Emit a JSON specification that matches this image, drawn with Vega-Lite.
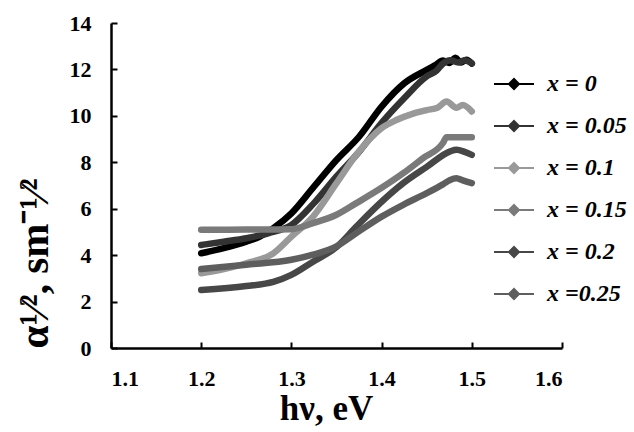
{
  "$schema": "https://vega.github.io/schema/vega-lite/v6.json",
  "width": 451,
  "height": 325,
  "autosize": {"type": "none"},
  "padding": {"left": 111, "top": 23, "right": 72, "bottom": 84},
  "background": "white",
  "config": {"view": {"stroke": null}},
  "data": {"values": [
    {"s": "x = 0", "e": 1.2, "a": 4.08}, {"s": "x = 0", "e": 1.225, "a": 4.3}, {"s": "x = 0", "e": 1.25, "a": 4.58}, {"s": "x = 0", "e": 1.265, "a": 4.8}, {"s": "x = 0", "e": 1.28, "a": 5.16}, {"s": "x = 0", "e": 1.3, "a": 5.8}, {"s": "x = 0", "e": 1.325, "a": 6.95}, {"s": "x = 0", "e": 1.35, "a": 8.1}, {"s": "x = 0", "e": 1.375, "a": 9.1}, {"s": "x = 0", "e": 1.4, "a": 10.4}, {"s": "x = 0", "e": 1.425, "a": 11.4}, {"s": "x = 0", "e": 1.45, "a": 11.98}, {"s": "x = 0", "e": 1.46, "a": 12.2}, {"s": "x = 0", "e": 1.468, "a": 12.38}, {"s": "x = 0", "e": 1.475, "a": 12.28}, {"s": "x = 0", "e": 1.482, "a": 12.5}, {"s": "x = 0", "e": 1.488, "a": 12.3}, {"s": "x = 0", "e": 1.494, "a": 12.42}, {"s": "x = 0", "e": 1.5, "a": 12.25},
    {"s": "x = 0.05", "e": 1.2, "a": 4.44}, {"s": "x = 0.05", "e": 1.225, "a": 4.58}, {"s": "x = 0.05", "e": 1.25, "a": 4.73}, {"s": "x = 0.05", "e": 1.275, "a": 4.95}, {"s": "x = 0.05", "e": 1.3, "a": 5.3}, {"s": "x = 0.05", "e": 1.325, "a": 6.24}, {"s": "x = 0.05", "e": 1.35, "a": 7.39}, {"s": "x = 0.05", "e": 1.375, "a": 8.45}, {"s": "x = 0.05", "e": 1.4, "a": 9.7}, {"s": "x = 0.05", "e": 1.425, "a": 10.76}, {"s": "x = 0.05", "e": 1.45, "a": 11.7}, {"s": "x = 0.05", "e": 1.461, "a": 11.95}, {"s": "x = 0.05", "e": 1.468, "a": 12.25}, {"s": "x = 0.05", "e": 1.476, "a": 12.4}, {"s": "x = 0.05", "e": 1.485, "a": 12.3}, {"s": "x = 0.05", "e": 1.492, "a": 12.4}, {"s": "x = 0.05", "e": 1.5, "a": 12.27},
    {"s": "x = 0.1", "e": 1.2, "a": 3.22}, {"s": "x = 0.1", "e": 1.225, "a": 3.4}, {"s": "x = 0.1", "e": 1.25, "a": 3.65}, {"s": "x = 0.1", "e": 1.28, "a": 4.08}, {"s": "x = 0.1", "e": 1.3, "a": 4.8}, {"s": "x = 0.1", "e": 1.324, "a": 5.66}, {"s": "x = 0.1", "e": 1.35, "a": 7.1}, {"s": "x = 0.1", "e": 1.372, "a": 8.32}, {"s": "x = 0.1", "e": 1.4, "a": 9.47}, {"s": "x = 0.1", "e": 1.417, "a": 9.83}, {"s": "x = 0.1", "e": 1.435, "a": 10.1}, {"s": "x = 0.1", "e": 1.45, "a": 10.25}, {"s": "x = 0.1", "e": 1.462, "a": 10.35}, {"s": "x = 0.1", "e": 1.472, "a": 10.62}, {"s": "x = 0.1", "e": 1.483, "a": 10.35}, {"s": "x = 0.1", "e": 1.49, "a": 10.47}, {"s": "x = 0.1", "e": 1.5, "a": 10.19},
    {"s": "x = 0.15", "e": 1.2, "a": 5.09}, {"s": "x = 0.15", "e": 1.25, "a": 5.1}, {"s": "x = 0.15", "e": 1.3, "a": 5.12}, {"s": "x = 0.15", "e": 1.324, "a": 5.38}, {"s": "x = 0.15", "e": 1.35, "a": 5.74}, {"s": "x = 0.15", "e": 1.372, "a": 6.24}, {"s": "x = 0.15", "e": 1.4, "a": 6.9}, {"s": "x = 0.15", "e": 1.424, "a": 7.53}, {"s": "x = 0.15", "e": 1.446, "a": 8.18}, {"s": "x = 0.15", "e": 1.468, "a": 8.83}, {"s": "x = 0.15", "e": 1.472, "a": 9.08}, {"s": "x = 0.15", "e": 1.5, "a": 9.08},
    {"s": "x = 0.2", "e": 1.2, "a": 2.5}, {"s": "x = 0.2", "e": 1.25, "a": 2.67}, {"s": "x = 0.2", "e": 1.28, "a": 2.85}, {"s": "x = 0.2", "e": 1.3, "a": 3.15}, {"s": "x = 0.2", "e": 1.324, "a": 3.72}, {"s": "x = 0.2", "e": 1.35, "a": 4.35}, {"s": "x = 0.2", "e": 1.372, "a": 5.23}, {"s": "x = 0.2", "e": 1.4, "a": 6.3}, {"s": "x = 0.2", "e": 1.424, "a": 7.1}, {"s": "x = 0.2", "e": 1.45, "a": 7.8}, {"s": "x = 0.2", "e": 1.476, "a": 8.47}, {"s": "x = 0.2", "e": 1.483, "a": 8.54}, {"s": "x = 0.2", "e": 1.492, "a": 8.45}, {"s": "x = 0.2", "e": 1.5, "a": 8.32},
    {"s": "x =0.25", "e": 1.2, "a": 3.4}, {"s": "x =0.25", "e": 1.25, "a": 3.59}, {"s": "x =0.25", "e": 1.3, "a": 3.8}, {"s": "x =0.25", "e": 1.324, "a": 4.02}, {"s": "x =0.25", "e": 1.35, "a": 4.38}, {"s": "x =0.25", "e": 1.372, "a": 4.95}, {"s": "x =0.25", "e": 1.4, "a": 5.66}, {"s": "x =0.25", "e": 1.424, "a": 6.17}, {"s": "x =0.25", "e": 1.45, "a": 6.67}, {"s": "x =0.25", "e": 1.468, "a": 7.05}, {"s": "x =0.25", "e": 1.476, "a": 7.24}, {"s": "x =0.25", "e": 1.483, "a": 7.31}, {"s": "x =0.25", "e": 1.49, "a": 7.22}, {"s": "x =0.25", "e": 1.5, "a": 7.1}
  ]},
  "mark": {"type": "line", "strokeWidth": 6.5, "strokeJoin": "round", "strokeCap": "round", "interpolate": "monotone"},
  "encoding": {
    "x": {
      "field": "e", "type": "quantitative",
      "scale": {"domain": [1.1, 1.6], "nice": false, "zero": false},
      "axis": {
        "title": "hν, eV", "values": [1.1, 1.2, 1.3, 1.4, 1.5, 1.6], "format": ".1f",
        "grid": false, "domainColor": "black", "domainWidth": 2.5, "tickColor": "black", "tickWidth": 2, "tickSize": -6,
        "labelFont": "Liberation Serif", "labelFontWeight": "bold", "labelFontSize": 22, "labelColor": "black", "labelPadding": 26,
        "titleFont": "Liberation Serif", "titleFontWeight": "bold", "titleFontSize": 35, "titleColor": "black", "titlePadding": 2, "titleX": 215
      }
    },
    "y": {
      "field": "a", "type": "quantitative",
      "scale": {"domain": [0, 14], "nice": false},
      "axis": {
        "title": "α¹⁄², sm⁻¹⁄²", "values": [0, 2, 4, 6, 8, 10, 12, 14],
        "grid": false, "domainColor": "black", "domainWidth": 2.5, "tickColor": "black", "tickWidth": 2, "tickSize": -6,
        "labelFont": "Liberation Serif", "labelFontWeight": "bold", "labelFontSize": 22, "labelColor": "black", "labelPadding": 26,
        "titleFont": "Liberation Serif", "titleFontWeight": "bold", "titleFontSize": 41, "titleColor": "black", "titlePadding": 13, "titleAnchor": "start"
      }
    },
    "color": {
      "field": "s", "type": "nominal",
      "scale": {"domain": ["x = 0", "x = 0.05", "x = 0.1", "x = 0.15", "x = 0.2", "x =0.25"], "range": ["#000000", "#333333", "#999999", "#7a7a7a", "#474747", "#5e5e5e"]},
      "legend": {
        "title": null, "orient": "none", "legendX": 382, "legendY": 40, "padding": 0, "rowPadding": 9,
        "symbolType": "M-1,0H1M0,-0.25L0.25,0L0,0.25L-0.25,0Z", "symbolSize": 1600, "symbolStrokeWidth": 2,
        "labelFont": "Liberation Serif", "labelFontStyle": "italic", "labelFontWeight": "bold", "labelFontSize": 24, "labelColor": "black", "labelOffset": 12, "labelLimit": 200,
        "encode": {"symbols": {"update": {"fill": {"scale": "color", "field": "value"}, "fillOpacity": {"value": 1}}}}
      }
    }
  }
}
